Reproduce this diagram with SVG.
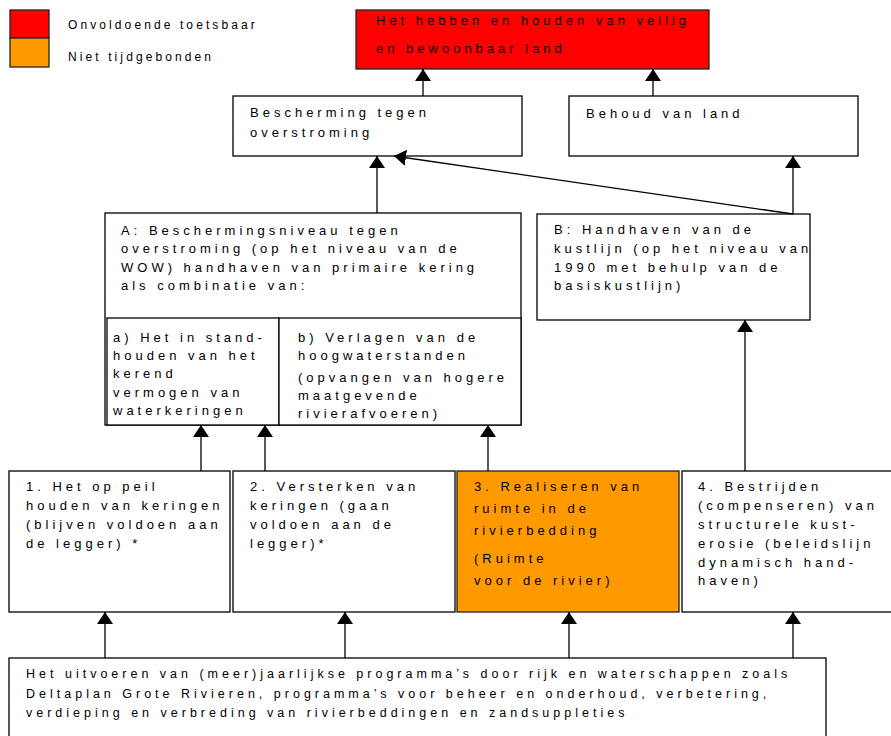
<svg xmlns="http://www.w3.org/2000/svg" width="891" height="736" viewBox="0 0 891 736">
<style>
  text { font-family: "Liberation Sans", Arial, sans-serif; font-size: 13px; letter-spacing: 4px; fill: #000; }
  .legend { font-size: 12px; letter-spacing: 3.1px; }
  .small { font-size: 12.5px; letter-spacing: 4px; }
  .box { fill: #fff; stroke: #000; stroke-width: 1.3; }
  .red { fill: #ff0000; stroke: #222; stroke-width: 1.3; }
  .orange { fill: #ff9900; stroke: #222; stroke-width: 1.3; }
  .conn line { stroke: #000; stroke-width: 1.3; marker-end: url(#arr); }
</style>
<defs>
  <marker id="arr" markerUnits="userSpaceOnUse" markerWidth="12" markerHeight="16" refX="12" refY="8" orient="auto" viewBox="0 0 12 16">
    <path d="M0,0 L12,8 L0,16 z" fill="#000"/>
  </marker>
</defs>
<rect width="891" height="736" fill="#fff"/>

<g id="legend">
  <rect x="10" y="10" width="39" height="28" class="red"/>
  <rect x="10" y="38" width="39" height="29" class="orange"/>
  <text class="legend" x="68" y="29">Onvoldoende toetsbaar</text>
  <text class="legend" x="68" y="61">Niet tijdgebonden</text>
</g>

<g id="goal">
  <rect x="356" y="10" width="353" height="59" class="red"/>
  <text x="376" y="25">Het hebben en houden van veilig</text>
  <text x="376" y="53">en bewoonbaar land</text>
</g>

<g id="bescherming">
  <rect x="233" y="96" width="289" height="60" class="box"/>
  <text x="250" y="117">Bescherming tegen</text>
  <text x="250" y="137">overstroming</text>
</g>

<g id="behoud">
  <rect x="569" y="96" width="289" height="60" class="box"/>
  <text x="586" y="118">Behoud van land</text>
</g>

<g id="nodeA">
  <rect x="105" y="213" width="416" height="212" class="box"/>
  <text x="121" y="235">A: Beschermingsniveau tegen</text>
  <text x="121" y="253.3">overstroming (op het niveau van de</text>
  <text x="121" y="271.6">WOW) handhaven van primaire kering</text>
  <text x="121" y="290">als combinatie van:</text>
</g>

<g id="nodeAa">
  <rect x="107" y="318" width="172" height="107" class="box"/>
  <text x="113" y="342">a) Het in stand-</text>
  <text x="113" y="360">houden van het</text>
  <text x="113" y="378">kerend</text>
  <text x="113" y="396.5">vermogen van</text>
  <text x="113" y="415">waterkeringen</text>
</g>

<g id="nodeAb">
  <rect x="279" y="318" width="242" height="107" class="box"/>
  <text x="298" y="342">b) Verlagen van de</text>
  <text x="298" y="360">hoogwaterstanden</text>
  <text x="298" y="382">(opvangen van hogere</text>
  <text x="298" y="400">maatgevende</text>
  <text x="298" y="418">rivierafvoeren)</text>
</g>

<g id="nodeB">
  <rect x="537" y="214" width="273" height="106" class="box"/>
  <text x="554" y="234">B: Handhaven van de</text>
  <text x="554" y="253">kustlijn (op het niveau van</text>
  <text x="554" y="272">1990 met behulp van de</text>
  <text x="554" y="290">basiskustlijn)</text>
</g>

<g id="node1">
  <rect x="9" y="471" width="221" height="141" class="box"/>
  <text x="26" y="491">1. Het op peil</text>
  <text x="26" y="510">houden van keringen</text>
  <text x="26" y="529">(blijven voldoen aan</text>
  <text x="26" y="548">de legger) *</text>
</g>

<g id="node2">
  <rect x="233" y="471" width="222" height="141" class="box"/>
  <text x="250" y="491">2. Versterken van</text>
  <text x="250" y="510">keringen (gaan</text>
  <text x="250" y="529">voldoen aan de</text>
  <text x="250" y="548">legger)*</text>
</g>

<g id="node3">
  <rect x="457" y="471" width="222" height="141" class="orange"/>
  <text x="474" y="491">3. Realiseren van</text>
  <text x="474" y="513">ruimte in de</text>
  <text x="474" y="535">rivierbedding</text>
  <text x="474" y="563">(Ruimte</text>
  <text x="474" y="585">voor de rivier)</text>
</g>

<g id="node4">
  <rect x="682" y="471" width="215" height="141" class="box"/>
  <text x="698" y="491">4. Bestrijden</text>
  <text x="698" y="510">(compenseren) van</text>
  <text x="698" y="529">structurele kust-</text>
  <text x="698" y="548">erosie (beleidslijn</text>
  <text x="698" y="567">dynamisch hand-</text>
  <text x="698" y="585">haven)</text>
</g>

<g id="programmas">
  <rect x="9" y="658" width="817" height="90" class="box"/>
  <text class="small" x="26" y="678">Het uitvoeren van (meer)jaarlijkse programma’s door rijk en waterschappen zoals</text>
  <text class="small" x="26" y="698">Deltaplan Grote Rivieren, programma’s voor beheer en onderhoud, verbetering,</text>
  <text class="small" x="26" y="717">verdieping en verbreding van rivierbeddingen en zandsuppleties</text>
</g>

<g id="connectors" class="conn">
  <line x1="423" y1="96" x2="423" y2="69"/>
  <line x1="653" y1="96" x2="653" y2="69"/>
  <line x1="377" y1="213" x2="377" y2="156"/>
  <line x1="793" y1="214" x2="793" y2="156"/>
  <line x1="793" y1="214" x2="394" y2="156"/>
  <line x1="201" y1="471" x2="201" y2="425"/>
  <line x1="265" y1="471" x2="265" y2="425"/>
  <line x1="488" y1="471" x2="488" y2="425"/>
  <line x1="745" y1="471" x2="745" y2="320"/>
  <line x1="105" y1="658" x2="105" y2="612"/>
  <line x1="345" y1="658" x2="345" y2="612"/>
  <line x1="569" y1="658" x2="569" y2="612"/>
  <line x1="793" y1="658" x2="793" y2="612"/>
</g>
</svg>
